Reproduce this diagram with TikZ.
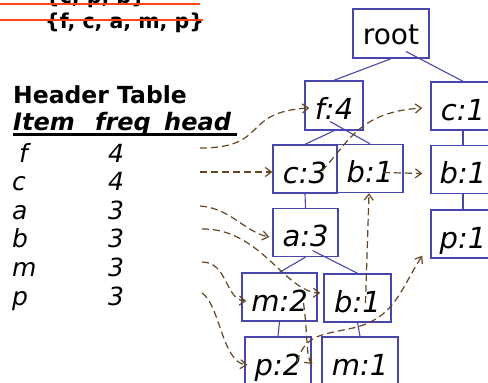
\documentclass[tikz,border=0pt]{standalone}
\usepackage{fontspec}
\setmainfont{DejaVu Sans}
\usetikzlibrary{arrows.meta}

\definecolor{treeblue}{RGB}{70,70,172}
\definecolor{linkbrown}{RGB}{100,70,35}
\definecolor{strikered}{RGB}{255,69,20}

\begin{document}
\begin{tikzpicture}[x=1pt,y=-1pt,
    tnode/.style={draw=treeblue,line width=1.4pt,inner sep=0pt,minimum width=64pt,minimum height=48pt,
        text height=28pt,text depth=0pt,font=\fontsize{29}{29}\selectfont\itshape},
    tedge/.style={treeblue,line width=1.1pt},
    link/.style={linkbrown,line width=1.2pt,dash pattern=on 7pt off 4pt,-{Straight Barb[length=6pt,width=9pt]}},
    lbl/.style={anchor=base west,inner sep=0pt},
    rowtxt/.style={lbl,font=\fontsize{25}{25}\selectfont\itshape},
    strike/.style={strikered,line width=1.6pt}]
    \useasboundingbox (0,0) rectangle (488,383);

    \node[lbl,font=\bfseries\fontsize{20.5}{20.5}\selectfont] (oldset) at (45,3) {\{c, p, b\}};
    \node[lbl,font=\bfseries\fontsize{20.5}{20.5}\selectfont] (newset) at (45,28) {\{f, c, a, m, p\}};
    \draw[strike] (0,4) -- (200,4);
    \draw[strike] (0,20) -- (203,20);

    \node[lbl,font=\bfseries\fontsize{23.5}{23.5}\selectfont] (title) at (13,103) {Header Table};
    \node[lbl,font=\bfseries\itshape\fontsize{24}{24}\selectfont] (item) at (13,130) {Item};
    \node[lbl,font=\bfseries\itshape\fontsize{24}{24}\selectfont] (freq) at (95,130) {freq};
    \node[lbl,font=\bfseries\itshape\fontsize{24}{24}\selectfont] (head) at (164,130) {head};
    \draw[line width=2.5pt] (13,134.5) -- (237,134.5);

    \node[rowtxt] (rf) at (19,162) {f};  \node[rowtxt] (nf) at (108,162) {4};
    \node[rowtxt] (rc) at (12,190) {c};  \node[rowtxt] (nc) at (108,190) {4};
    \node[rowtxt] (ra) at (12,219) {a};  \node[rowtxt] (na) at (108,219) {3};
    \node[rowtxt] (rb) at (12,247) {b};  \node[rowtxt] (nb) at (108,247) {3};
    \node[rowtxt] (rm) at (12,276) {m};  \node[rowtxt] (nm) at (108,276) {3};
    \node[rowtxt] (rp) at (12,305) {p};  \node[rowtxt] (np) at (108,305) {3};

    \coordinate (hf) at (200,148);
    \coordinate (hc) at (200,172);
    \coordinate (ha) at (200,206);
    \coordinate (hb) at (202,229);
    \coordinate (hm) at (202,262);
    \coordinate (hp) at (202,293);

    % FP-tree
    \node[tnode,text height=21pt,font=\fontsize{28}{28}\selectfont,minimum width=76pt,minimum height=49pt] (root) at (391,33.5) {root};
    \node[tnode,minimum width=58pt,minimum height=49pt] (f4) at (334,105.5) {f:4};
    \node[tnode] (c1) at (463,106) {c:1};
    \node[tnode] (c3) at (305,169) {c:3};
    \node[tnode,minimum width=66pt] (b1m) at (370,168.5) {b:1};
    \node[tnode] (b1r) at (463,169.5) {b:1};
    \node[tnode] (p1) at (463,234) {p:1};
    \node[tnode,minimum width=65pt] (a3) at (305.5,232.5) {a:3};
    \node[tnode,minimum width=75pt] (m2) at (279.5,297) {m:2};
    \node[tnode,minimum width=67pt] (b1l) at (357.5,298) {b:1};
    \node[tnode,minimum width=66pt] (p2) at (278,361) {p:2};
    \node[tnode,minimum width=76pt] (m1) at (360,361) {m:1};

    \draw[tedge] (root.south) -- (f4.north);
    \draw[tedge] ([xshift=15pt,yshift=-18pt]root.center) -- (c1.north);
    \draw[tedge] (f4.south) -- (c3.north);
    \draw[tedge] ([xshift=-4pt,yshift=-16pt]f4.center) -- (b1m.north);
    \draw[tedge] (c1.south) -- (b1r.north);
    \draw[tedge] (b1r.south) -- (p1.north);
    \draw[tedge] (c3.south) -- (a3.north);
    \draw[tedge] (a3.south) -- (m2.north);
    \draw[tedge] ([xshift=7pt,yshift=-18pt]a3.center) -- (b1l.north);
    \draw[tedge] (m2.south) -- (p2.north);
    \draw[tedge] (b1l.south) -- (m1.north);

    % node-links
    \draw[link] (hf) .. controls (270,148) and (240,112) .. ([xshift=5pt,yshift=-2.5pt]f4.west);
    \draw[link] (hc) -- (hc -| c3.west);
    \draw[link] ([xshift=17pt,yshift=-2pt]c3.center) .. controls (350,140) and (360,112) .. ([xshift=-8pt,yshift=-2pt]c1.west);
    \draw[link] ([xshift=13pt,yshift=-4pt]b1m.center) -- ([xshift=-8pt,yshift=-4pt]b1r.west);
    \draw[link] (ha) .. controls (230,208) and (245,232) .. ([xshift=-3pt,yshift=-4.5pt]a3.west);
    \draw[link] (hb) .. controls (260,228) and (285,292) .. ([xshift=-3pt,yshift=5pt]b1l.west);
    \draw[link] (hm) .. controls (228,262) and (225,300) .. ([xshift=5pt,yshift=-4pt]m2.west);
    \draw[link] (hp) .. controls (220,305) and (222,362) .. ([xshift=3pt,yshift=-4pt]p2.west);
    \draw[link] ([xshift=24pt,yshift=-6pt]m2.center) .. controls (308,335) and (306,358) .. ([xshift=-9pt,yshift=-3pt]m1.west);
    \draw[link] ([xshift=19pt,yshift=-1pt]p2.center) .. controls (305,335) and (320,335) .. (353,328)
        .. controls (395,318) and (400,290) .. ([xshift=-8pt,yshift=3pt]p1.south west);
    \draw[link] ([xshift=8pt,yshift=-5pt]b1l.center) -- ([xshift=-1pt]b1m.south);
\end{tikzpicture}
\end{document}
